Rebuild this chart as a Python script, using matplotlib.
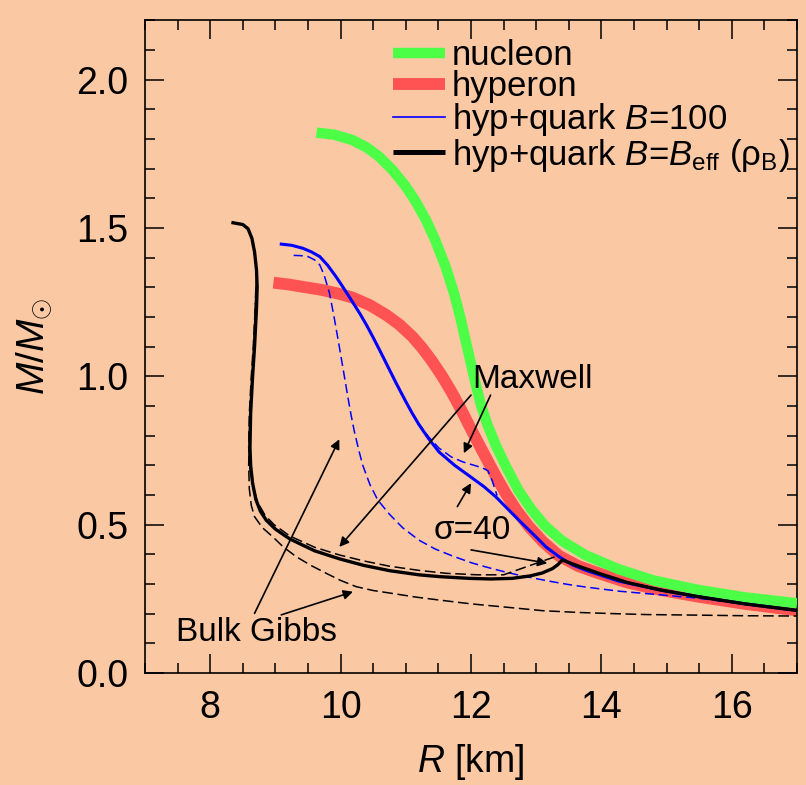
import matplotlib
matplotlib.use("Agg")
import matplotlib.pyplot as plt
from matplotlib.lines import Line2D
from matplotlib.ticker import MultipleLocator, FormatStrFormatter

plt.rcParams["font.family"] = ["Liberation Sans", "DejaVu Sans"]
plt.rcParams["mathtext.fontset"] = "custom"
plt.rcParams["mathtext.rm"] = "Liberation Sans"
plt.rcParams["mathtext.it"] = "Liberation Sans:italic"
plt.rcParams["mathtext.bf"] = "Liberation Sans:bold"

# ---------------- mass-radius curves (R in km, M in solar masses) ----------------
nucleon_R = [9.63, 9.90, 10.18, 10.40, 10.59, 10.80, 11.00, 11.15, 11.31, 11.45, 11.61,
             11.74, 11.84, 11.92, 12.00, 12.07, 12.15, 12.25, 12.38, 12.55, 12.73, 12.93,
             13.14, 13.40, 13.75, 14.26, 14.80, 15.49, 16.20, 17.00]
nucleon_M = [1.822, 1.815, 1.797, 1.772, 1.741, 1.695, 1.640, 1.590, 1.527, 1.460, 1.370,
             1.280, 1.195, 1.118, 1.042, 0.975, 0.905, 0.838, 0.768, 0.690, 0.615, 0.550,
             0.495, 0.445, 0.398, 0.350, 0.312, 0.280, 0.255, 0.235]

hyperon_R = [8.97, 9.20, 9.42, 9.70, 9.95, 10.18, 10.45, 10.70, 10.90, 11.10, 11.25, 11.40,
             11.55, 11.70, 11.85, 12.00, 12.20, 12.37, 12.53, 12.70, 12.89, 13.10, 13.35,
             13.65, 13.96, 14.40, 14.90, 15.49, 16.20, 17.00]
hyperon_M = [1.316, 1.310, 1.302, 1.292, 1.280, 1.266, 1.240, 1.207, 1.175, 1.134, 1.096, 1.052,
             1.003, 0.948, 0.887, 0.822, 0.738, 0.668, 0.606, 0.548, 0.493, 0.443, 0.395,
             0.360, 0.336, 0.305, 0.280, 0.257, 0.233, 0.211]

# hyperon + quark, B = 100 (mixed phase with sigma = 40)
hq100_R = [9.09, 9.25, 9.42, 9.55, 9.68, 9.80, 9.93, 10.03, 10.13, 10.22, 10.30, 10.40, 10.49,
           10.60, 10.70, 10.85, 11.00, 11.10, 11.20, 11.35, 11.51, 11.75, 11.97, 12.20, 12.38,
           12.55, 12.73, 12.99, 13.15, 13.35, 13.55, 13.75, 14.26, 14.90, 15.49, 16.20, 17.00]
hq100_M = [1.446, 1.442, 1.432, 1.420, 1.404, 1.375, 1.336, 1.303, 1.269, 1.238, 1.210, 1.172,
           1.135, 1.088, 1.044, 0.978, 0.915, 0.875, 0.838, 0.790, 0.745, 0.700, 0.665, 0.628,
           0.594, 0.556, 0.516, 0.460, 0.425, 0.392, 0.365, 0.347, 0.310, 0.280, 0.257, 0.233,
           0.211]

# hyperon + quark, B = 100, Maxwell construction
hq100_maxwell_R = [9.09, 9.25, 9.42, 9.55, 9.68, 9.80, 9.93, 10.03, 10.13, 10.22, 10.30, 10.40,
                   10.49, 10.60, 10.70, 10.85, 11.00, 11.10, 11.20, 11.35, 11.51, 11.70, 11.87,
                   12.05, 12.17, 12.26, 12.33, 12.40]
hq100_maxwell_M = [1.446, 1.442, 1.432, 1.420, 1.404, 1.375, 1.336, 1.303, 1.269, 1.238, 1.210,
                   1.172, 1.135, 1.088, 1.044, 0.978, 0.915, 0.875, 0.840, 0.796, 0.758, 0.728,
                   0.712, 0.700, 0.692, 0.682, 0.645, 0.598]

# hyperon + quark, B = 100, bulk Gibbs
hq100_gibbs_R = [9.28, 9.40, 9.50, 9.60, 9.68, 9.75, 9.83, 9.90, 9.98, 10.05, 10.11, 10.16,
                 10.21, 10.28, 10.34, 10.45, 10.57, 10.75, 10.95, 11.20, 11.45, 11.71, 12.00,
                 12.22, 12.48, 12.73, 13.00, 13.24, 13.50, 13.75, 14.26, 14.98, 15.49, 16.20,
                 17.00]
hq100_gibbs_M = [1.408, 1.407, 1.404, 1.393, 1.376, 1.340, 1.280, 1.200, 1.100, 1.010, 0.932,
                 0.870, 0.815, 0.750, 0.700, 0.635, 0.583, 0.535, 0.490, 0.448, 0.418, 0.395,
                 0.372, 0.358, 0.343, 0.330, 0.318, 0.308, 0.298, 0.290, 0.276, 0.262, 0.252,
                 0.232, 0.211]

# hyperon + quark, B = B_eff(rho_B) (mixed phase with sigma = 40)
hqeff_R = [17.00, 16.20, 15.49, 14.90, 14.40, 13.96, 13.65, 13.40, 13.33, 13.25, 13.09, 12.90,
           12.63, 12.30, 11.97, 11.51, 11.20, 10.75, 10.35, 9.98, 9.60, 9.22, 9.00, 8.86, 8.77,
           8.70, 8.65, 8.62, 8.61, 8.62, 8.65, 8.68, 8.71, 8.72, 8.71, 8.68, 8.64, 8.58, 8.50,
           8.35]
hqeff_M = [0.211, 0.233, 0.257, 0.280, 0.305, 0.336, 0.360, 0.381, 0.365, 0.352, 0.337, 0.327,
           0.319, 0.317, 0.319, 0.325, 0.331, 0.345, 0.363, 0.385, 0.412, 0.452, 0.485, 0.515,
           0.545, 0.585, 0.640, 0.700, 0.760, 0.876, 1.000, 1.100, 1.230, 1.300, 1.359, 1.420,
           1.465, 1.498, 1.512, 1.518]

# hyperon + quark, B = B_eff(rho_B), Maxwell construction
hqeff_maxwell_R = [8.71, 8.69, 8.66, 8.63, 8.60, 8.59, 8.61, 8.66, 8.73, 8.84, 8.98, 9.22, 9.60,
                   9.98, 10.35, 10.75, 11.20, 11.62, 12.10, 12.50, 12.90, 13.29]
hqeff_maxwell_M = [1.330, 1.230, 1.100, 1.000, 0.876, 0.760, 0.690, 0.625, 0.575, 0.532, 0.500,
                   0.462, 0.424, 0.398, 0.378, 0.360, 0.346, 0.336, 0.331, 0.331, 0.362, 0.392]

# hyperon + quark, B = B_eff(rho_B), bulk Gibbs
hqeff_gibbs_R = [8.70, 8.67, 8.63, 8.60, 8.59, 8.60, 8.63, 8.68, 8.80, 8.96, 9.12, 9.32, 9.55,
                 9.78, 10.00, 10.24, 10.50, 10.80, 11.15, 11.51, 12.00, 12.63, 13.10, 13.65,
                 14.20, 14.68, 15.49, 16.20, 17.00]
hqeff_gibbs_M = [1.300, 1.100, 0.950, 0.800, 0.700, 0.620, 0.565, 0.527, 0.490, 0.459, 0.425,
                 0.392, 0.362, 0.336, 0.312, 0.291, 0.278, 0.268, 0.256, 0.246, 0.233, 0.220,
                 0.210, 0.204, 0.200, 0.197, 0.195, 0.193, 0.192]

legend_labels = ["nucleon", "hyperon", "hyp+quark $B$=100",
                 "hyp+quark $B$=$B_{\\mathrm{eff}}$ (ρ$_{\\mathrm{B}}$)"]

BG = "#FBC8A4"
GREEN = "#4CFF46"
RED = "#FF5252"
BLUE = "#0000FF"
BLACK = "#000000"

fig = plt.figure(figsize=(8.06, 7.85), dpi=100, facecolor=BG)
ax = fig.add_axes([0.1799, 0.1427, 0.809, 0.8312], facecolor=BG)

ax.plot(hyperon_R, hyperon_M, color=RED, lw=8.5, solid_capstyle="butt", zorder=2)
ax.plot(nucleon_R, nucleon_M, color=GREEN, lw=7.5, solid_capstyle="butt", zorder=3)
ax.plot(hq100_R, hq100_M, color=BLUE, lw=2.2, zorder=4)
ax.plot(hq100_maxwell_R, hq100_maxwell_M, color=BLUE, lw=1.1, ls=(0, (6, 3)), zorder=4)
ax.plot(hq100_gibbs_R, hq100_gibbs_M, color=BLUE, lw=1.1, ls=(0, (6, 3)), zorder=4)
ax.plot(hqeff_R, hqeff_M, color=BLACK, lw=2.4, zorder=5)
ax.plot(hqeff_maxwell_R, hqeff_maxwell_M, color=BLACK, lw=1.1, ls=(0, (7, 3)), zorder=5)
ax.plot(hqeff_gibbs_R, hqeff_gibbs_M, color=BLACK, lw=1.1, ls=(0, (7, 3)), zorder=5)

ax.set_xlim(7, 17)
ax.set_ylim(0, 2.2)
ax.xaxis.set_major_locator(MultipleLocator(2))
ax.xaxis.set_minor_locator(MultipleLocator(0.5))
ax.yaxis.set_major_locator(MultipleLocator(0.5))
ax.yaxis.set_minor_locator(MultipleLocator(0.1))
ax.xaxis.set_major_formatter(FormatStrFormatter("%d"))
ax.yaxis.set_major_formatter(FormatStrFormatter("%.1f"))
ax.tick_params(which="both", direction="in", top=True, right=True, width=1.1)
ax.tick_params(which="major", length=14, labelsize=27, pad=12)
ax.tick_params(which="minor", length=7)
for s in ax.spines.values():
    s.set_linewidth(1.2)

ax.set_xlabel("$R$ [km]", fontsize=27, labelpad=12)
ax.set_ylabel("$M/M_{\\odot}$", fontsize=28, labelpad=16)

# annotations
arrow_kw = dict(arrowstyle="-|>", color="k", lw=1.2, mutation_scale=14,
                shrinkA=0, shrinkB=0)
ax.text(12.95, 0.988, "Maxwell", fontsize=24, ha="center", va="center", zorder=6)
ax.annotate("", xy=(9.98, 0.425), xytext=(12.0, 0.937), arrowprops=arrow_kw, zorder=6)
ax.annotate("", xy=(11.89, 0.741), xytext=(12.3, 0.937), arrowprops=arrow_kw, zorder=6)

ax.text(12.02, 0.482, "σ=40", fontsize=24, ha="center", va="center", zorder=6)
ax.annotate("", xy=(12.0, 0.64), xytext=(11.79, 0.561), arrowprops=arrow_kw, zorder=6)
ax.annotate("", xy=(13.17, 0.37), xytext=(12.0, 0.415), arrowprops=arrow_kw, zorder=6)

ax.text(8.71, 0.138, "Bulk Gibbs", fontsize=24, ha="center", va="center", zorder=6)
ax.annotate("", xy=(9.98, 0.788), xytext=(8.68, 0.201), arrowprops=arrow_kw, zorder=6)
ax.annotate("", xy=(10.19, 0.274), xytext=(9.09, 0.196), arrowprops=arrow_kw, zorder=6)

handles = [Line2D([], [], color=GREEN, lw=7.5, solid_capstyle="butt"),
           Line2D([], [], color=RED, lw=8.5, solid_capstyle="butt"),
           Line2D([], [], color=BLUE, lw=1.2),
           Line2D([], [], color=BLACK, lw=3.6, solid_capstyle="butt")]
ax.legend(handles, legend_labels, loc="upper left", bbox_to_anchor=(0.38, 0.972),
          frameon=False, fontsize=25, handlelength=1.5, handletextpad=0.2,
          labelspacing=-0.05, borderaxespad=0, borderpad=0)

fig.savefig("out.png", dpi=100, facecolor=BG)
